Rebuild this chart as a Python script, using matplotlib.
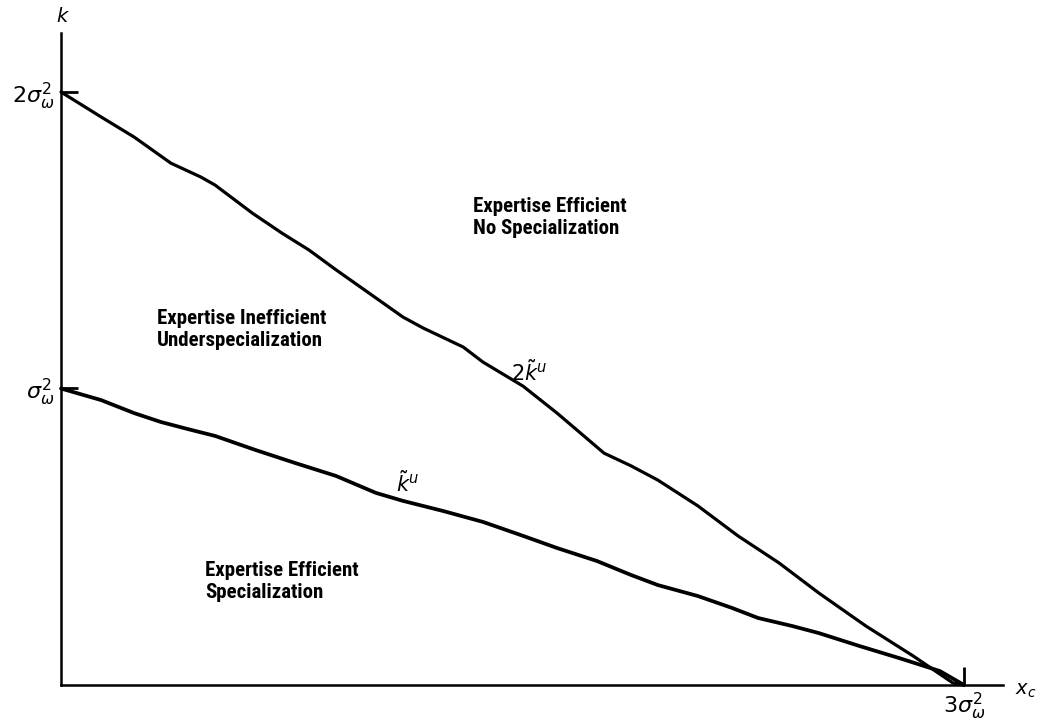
import matplotlib
matplotlib.use("Agg")
import matplotlib.pyplot as plt
from matplotlib import font_manager

# ---- data (x in units of sigma_w^2, k in units of sigma_w^2) ----
upper_x = [0.0, 0.133, 0.243, 0.365, 0.465, 0.512, 0.635, 0.734, 0.824, 0.914,
           1.023, 1.136, 1.203, 1.336, 1.402, 1.535, 1.648, 1.714, 1.804, 1.894,
           1.983, 2.116, 2.249, 2.385, 2.518, 2.674, 2.831, 2.963, 3.0]
upper_k = [2.0, 1.916, 1.848, 1.760, 1.713, 1.686, 1.592, 1.524, 1.467, 1.400,
           1.322, 1.241, 1.204, 1.140, 1.089, 1.008, 0.917, 0.860, 0.782, 0.739,
           0.691, 0.604, 0.503, 0.412, 0.310, 0.199, 0.098, 0.007, 0.0]
lower_x = [0.0, 0.133, 0.243, 0.332, 0.422, 0.512, 0.645, 0.777, 0.914, 1.046,
           1.136, 1.269, 1.402, 1.535, 1.648, 1.781, 1.894, 1.983, 2.116, 2.229,
           2.316, 2.429, 2.518, 2.651, 2.784, 2.920, 3.0]
lower_k = [1.0, 0.961, 0.917, 0.887, 0.863, 0.840, 0.793, 0.749, 0.705, 0.648,
           0.621, 0.587, 0.550, 0.503, 0.462, 0.418, 0.371, 0.337, 0.300, 0.260,
           0.226, 0.199, 0.175, 0.132, 0.091, 0.047, 0.0]

y_ticks = [1, 2]
y_ticklabels = [r'$\sigma^2_\omega$', r'$2\sigma^2_\omega$']
x_ticks = [3]
x_ticklabels = [r'$3\sigma^2_\omega$']

# pick a condensed bold face if one is installed
names = {f.name for f in font_manager.fontManager.ttflist}
if 'Liberation Sans Narrow' in names:
    region_font = dict(family=['Liberation Sans Narrow', 'DejaVu Sans'], fontsize=14.5)
elif 'Roboto Condensed' in names:
    region_font = dict(family=['Roboto Condensed', 'DejaVu Sans'], fontsize=15)
else:
    region_font = dict(family=['Liberation Sans', 'DejaVu Sans'], fontsize=12)

W, H = 1045, 726
fig = plt.figure(figsize=(W / 100, H / 100), dpi=100)
ax = fig.add_axes([0, 0, 1, 1])

# pixel mapping: x=0 -> 61px, x=3 -> 964px; k=0 -> 685px, k=2 -> 92px
sx = (964 - 61) / 3.0
sy = (685 - 92) / 2.0
ax.set_xlim(-61 / sx, (W - 61) / sx)
ax.set_ylim(-(H - 685) / sy, 685 / sy)

ax.plot(upper_x, upper_k, color='black', lw=2.3, solid_joinstyle='round', solid_capstyle='round')
ax.plot(lower_x, lower_k, color='black', lw=2.7, solid_joinstyle='round', solid_capstyle='round')

for s in ['top', 'right']:
    ax.spines[s].set_visible(False)
ax.spines['left'].set_position(('data', 0))
ax.spines['bottom'].set_position(('data', 0))
ax.spines['left'].set_bounds(0, (685 - 33) / sy)
ax.spines['bottom'].set_bounds(0, (1003 - 61) / sx)
ax.spines['left'].set_linewidth(1.8)
ax.spines['bottom'].set_linewidth(1.8)
ax.patch.set_visible(False)

ax.set_yticks(y_ticks)
ax.set_yticklabels(y_ticklabels)
ax.set_xticks(x_ticks)
ax.set_xticklabels(x_ticklabels)
ax.tick_params(axis='y', direction='in', length=12, width=2, pad=5, labelsize=16)
ax.tick_params(axis='x', direction='in', length=13, width=2, pad=4, labelsize=16)

ax.text(0.005, 2.255, r'$k$', fontsize=14, ha='center', va='center')
ax.text((1015 - 61) / sx, -0.02, r'$x_c$', fontsize=14, ha='left', va='center')

bold = dict(weight='bold', ha='left', va='center', linespacing=1.2, **region_font)
ax.text((473 - 61) / sx, (685 - 218) / sy, 'Expertise Efficient\nNo Specialization', **bold)
ax.text((157 - 61) / sx, (685 - 330) / sy, 'Expertise Inefficient\nUnderspecialization', **bold)
ax.text((205 - 61) / sx, (685 - 581) / sy, 'Expertise Efficient\nSpecialization', **bold)

ax.text((511 - 61) / sx, (685 - 372) / sy, r'$2\tilde{k}^u$', fontsize=15, ha='left', va='center')
ax.text((396 - 61) / sx, (685 - 483) / sy, r'$\tilde{k}^u$', fontsize=15, ha='left', va='center')

fig.savefig('out.png', dpi=100)
